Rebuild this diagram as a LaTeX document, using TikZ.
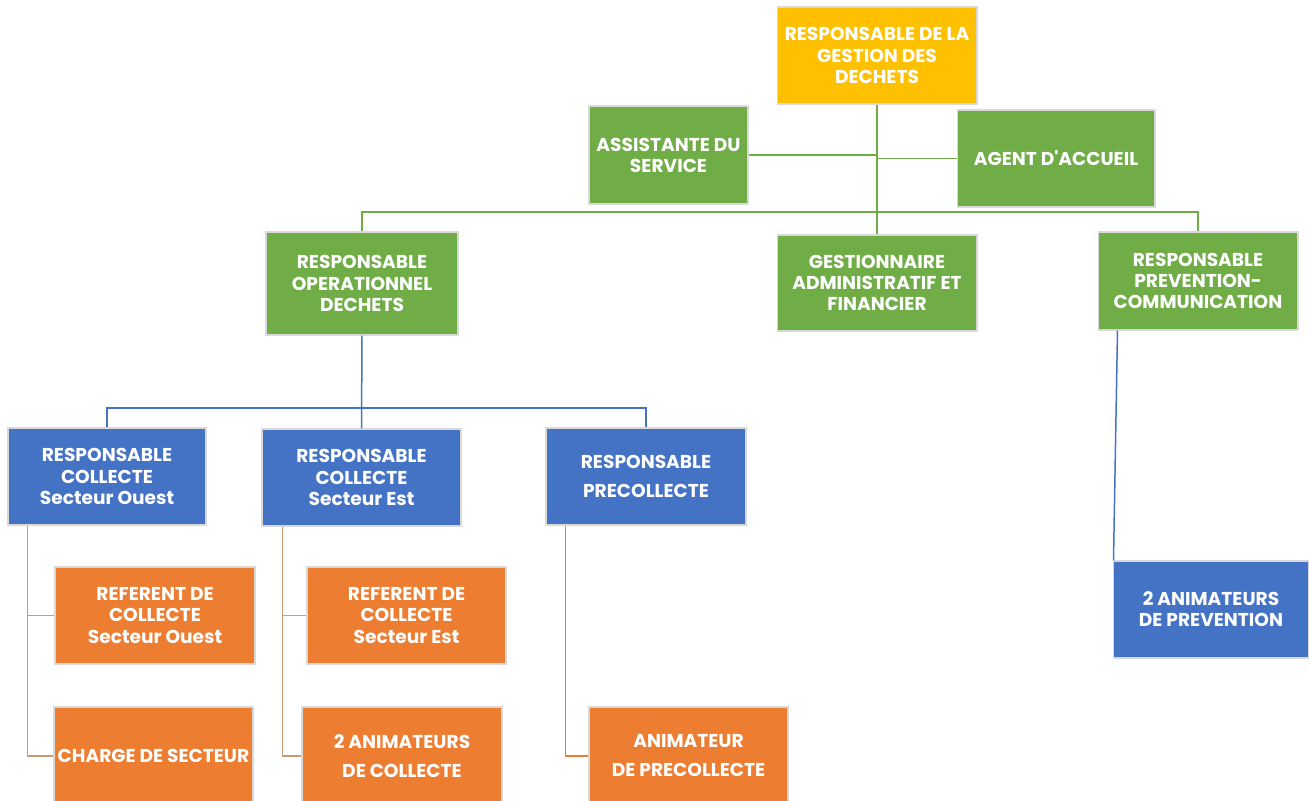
\documentclass[tikz,border=0pt]{standalone}
\usepackage{fontspec}
\setmainfont{Poppins}[Ligatures=TeXOff]
\usepackage{tikz}
\usetikzlibrary{calc, positioning}
\definecolor{orgyellow}{HTML}{FFC000}
\definecolor{orggreen}{HTML}{70AD47}
\definecolor{orgblue}{HTML}{4472C4}
\definecolor{orgorange}{HTML}{ED7D31}
\definecolor{orgtan}{HTML}{C99A78}

\begin{document}
\begin{tikzpicture}
			[x=0.02cm, y=-0.02cm,
			poste/.style={draw=black!15, line width=0.6pt, text=white, align=center, inner sep=0pt,
				minimum width=4cm, minimum height=1.94cm,
				font=\bfseries\fontsize{10.6}{12}\selectfont},
			direction/.style={poste, fill=orgyellow},
			pole/.style={poste, fill=orggreen},
			secteur/.style={poste, fill=orgblue},
			terrain/.style={poste, fill=orgorange},
			lien/.style={line width=0.85pt}]
			\useasboundingbox (0,0) rectangle (1309,801);

			\node[direction](chef) at (877,55.5) {RESPONSABLE DE LA\\GESTION DES\\DECHETS};
			\node[pole, minimum width=3.18cm, minimum height=1.96cm](assist) at (668.5,155) {ASSISTANTE DU\\SERVICE};
			\node[pole, minimum width=3.96cm](accueil) at (1056,158.5) {AGENT D'ACCUEIL};

			\node[pole, minimum width=3.84cm, minimum height=2.06cm](respop) at (362,283.5) {RESPONSABLE\\OPERATIONNEL\\DECHETS};
			\node[pole, minimum height=1.92cm](gestion) at (877,283) {GESTIONNAIRE\\ADMINISTRATIF ET\\FINANCIER};
			\node[pole, minimum height=1.96cm](respprev) at (1198,281) {RESPONSABLE\\PREVENTION-\\COMMUNICATION};

			\node[secteur, minimum width=3.96cm](colouest) at (107,476.5) {RESPONSABLE\\COLLECTE\\Secteur Ouest};
			\node[secteur, minimum width=3.98cm](colest) at (361.5,477.5) {RESPONSABLE\\COLLECTE\\Secteur Est};
			\node[secteur](precol) at (646,476.5) {RESPONSABLE\\[4.5pt]PRECOLLECTE};

			\node[terrain](refouest) at (155,615.5) {REFERENT DE\\COLLECTE\\Secteur Ouest};
			\node[terrain, minimum width=3.98cm](refest) at (406.5,615.5) {REFERENT DE\\COLLECTE\\Secteur Est};
			\node[terrain, minimum width=3.98cm, minimum height=1.96cm](charge) at (153.5,756) {CHARGE DE SECTEUR};
			\node[terrain, minimum height=1.96cm](animcol) at (402,756) {2 ANIMATEURS\\[4.5pt]DE COLLECTE};
			\node[terrain, minimum width=3.98cm, minimum height=1.96cm](animprecol) at (688.5,756) {ANIMATEUR\\[4.5pt]DE PRECOLLECTE};

			\node[secteur, minimum width=3.92cm](animprev) at (1211,609.5) {2 ANIMATEURS\\DE PREVENTION};

			% direction
			\coordinate (busvert) at (877,212);
			\draw[lien, orggreen] (chef.south)--(gestion.north);
			\draw[lien, orggreen] (assist.east)--(assist.east -| chef.south);
			\draw[lien, orggreen] (accueil.west)--(accueil.west -| chef.south);
			\draw[lien, orggreen] (respop.north) |- (busvert) -| (respprev.north);

			% operationnel
			\coordinate (busbleu) at (362,408);
			\draw[lien, orgblue] (respop.south)--(colest.north);
			\draw[lien, orgblue] (colouest.north) |- (busbleu) -| (precol.north);

			% equipes terrain
			\coordinate (touest) at ([xshift=0.4cm]colouest.south west);
			\coordinate (test) at ([xshift=0.42cm]colest.south west);
			\coordinate (tprecol) at ([xshift=0.4cm]precol.south west);
			\draw[lien, orgtan] (touest) |- (charge.west);
			\draw[lien, orgtan] (touest |- refouest.west)--(refouest.west);
			\draw[lien, orgtan] (test) |- (animcol.west);
			\draw[lien, orgtan] (test |- refest.west)--(refest.west);
			\draw[lien, orgorange] (tprecol) |- (animprecol.west);

			% prevention
			\draw[lien, orgblue] ([xshift=0.4cm]respprev.south west)--([xshift=0.02cm]animprev.north west);
		\end{tikzpicture}
\end{document}
